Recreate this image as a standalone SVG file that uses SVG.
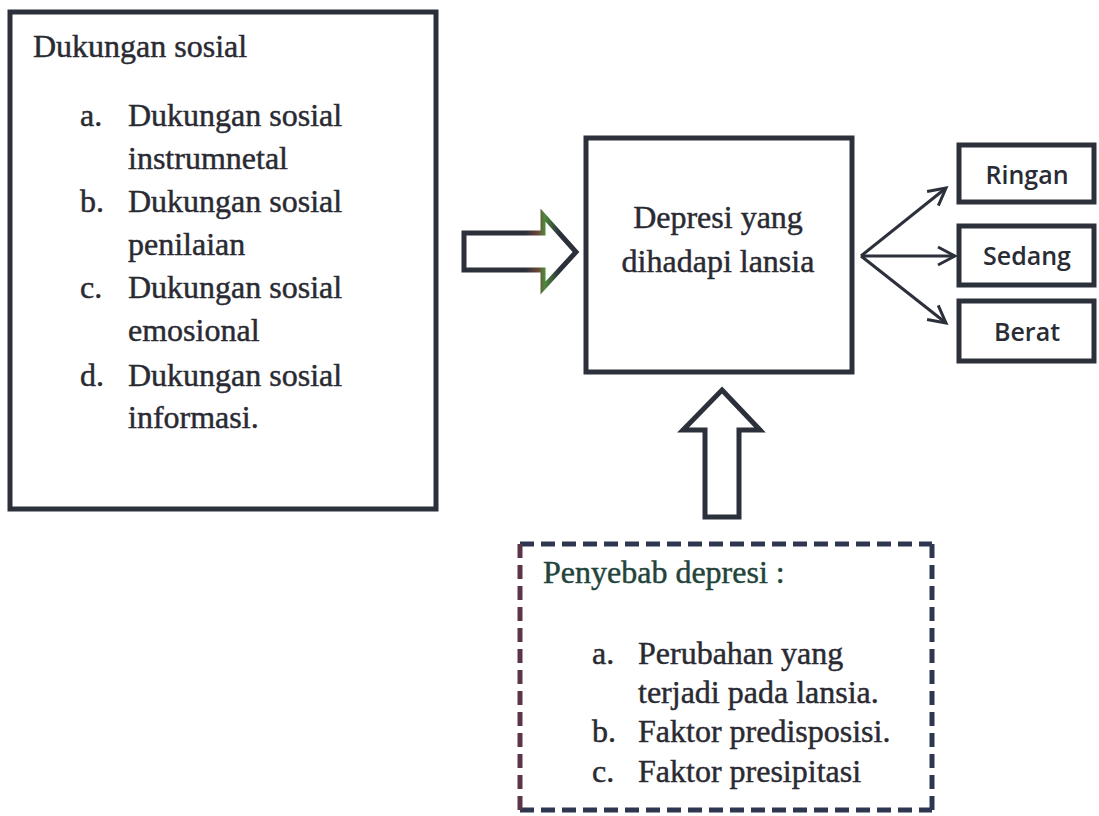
<svg xmlns="http://www.w3.org/2000/svg" width="1099" height="816" viewBox="0 0 1099 816">
<style>
.box{fill:none;stroke:#2c303b;stroke-width:5}
.serif{font-family:"Liberation Serif","Times New Roman",serif;font-size:32px;fill:#2a2a33;stroke:#2a2a33;stroke-width:0.45}
.sans{font-family:"Open Sans","Noto Sans",sans-serif;font-weight:600;font-size:25px;fill:#2a2c35;text-anchor:middle}
.conn{fill:none;stroke:#2c303b;stroke-width:3}
.block{fill:#fff;stroke:#2c303b;stroke-width:5;stroke-linejoin:miter}
.dash{stroke:#2f3650;stroke-width:5;stroke-dasharray:14 7}
</style>
<defs>
<marker id="open" viewBox="0 0 24 24" refX="21" refY="12" markerWidth="24" markerHeight="24" markerUnits="userSpaceOnUse" orient="auto">
<path d="M4,3 L21,12 L4,21" fill="none" stroke="#2c303b" stroke-width="3"/>
</marker>
<linearGradient id="tint" x1="0" y1="0" x2="1" y2="0">
<stop offset="0" stop-color="#2c303b"/>
<stop offset="0.55" stop-color="#2c303b"/>
<stop offset="0.66" stop-color="#6b4638"/>
<stop offset="0.72" stop-color="#4f8a3c"/>
<stop offset="0.85" stop-color="#2c303b"/>
<stop offset="1" stop-color="#2c303b"/>
</linearGradient>
</defs>
<rect width="1099" height="816" fill="#fff"/>

<g id="dukungan-sosial">
<rect class="box" x="10" y="12" width="426" height="497"/>
<text class="serif" x="33" y="57">Dukungan sosial</text>
<text class="serif" x="80" y="126">a.</text>
<text class="serif" x="128" y="126">Dukungan sosial</text>
<text class="serif" x="128" y="169">instrumnetal</text>
<text class="serif" x="80" y="212">b.</text>
<text class="serif" x="128" y="212">Dukungan sosial</text>
<text class="serif" x="128" y="255">penilaian</text>
<text class="serif" x="80" y="298">c.</text>
<text class="serif" x="128" y="298">Dukungan sosial</text>
<text class="serif" x="128" y="341">emosional</text>
<text class="serif" x="80" y="386">d.</text>
<text class="serif" x="128" y="386">Dukungan sosial</text>
<text class="serif" x="128" y="428">informasi.</text>
</g>

<g id="depresi">
<rect class="box" x="586" y="138" width="266" height="234"/>
<text class="serif" x="718" y="228" text-anchor="middle">Depresi yang</text>
<text class="serif" x="718" y="272" text-anchor="middle">dihadapi lansia</text>
</g>

<g id="ringan">
<rect class="box" x="959" y="145" width="135" height="57"/>
<text class="sans" x="1027" y="184">Ringan</text>
</g>
<g id="sedang">
<rect class="box" x="959" y="226" width="135" height="59"/>
<text class="sans" x="1027" y="265">Sedang</text>
</g>
<g id="berat">
<rect class="box" x="959" y="301" width="135" height="60"/>
<text class="sans" x="1027" y="341">Berat</text>
</g>

<g id="penyebab">
<line class="dash" x1="520" y1="544" x2="932" y2="544"/>
<line class="dash" x1="932" y1="544" x2="932" y2="810"/>
<line class="dash" x1="520" y1="810" x2="932" y2="810"/>
<line class="dash" x1="520" y1="544" x2="520" y2="810" style="stroke:#5a3648"/>
<text class="serif" x="543" y="583" style="fill:#23443a;stroke:#23443a">Penyebab depresi :</text>
<text class="serif" x="592" y="664">a.</text>
<text class="serif" x="638" y="664">Perubahan yang</text>
<text class="serif" x="638" y="703">terjadi pada lansia.</text>
<text class="serif" x="592" y="742">b.</text>
<text class="serif" x="638" y="742">Faktor predisposisi.</text>
<text class="serif" x="592" y="782">c.</text>
<text class="serif" x="638" y="782">Faktor presipitasi</text>
</g>

<g id="connectors">
<polygon class="block" points="464,233 543,233 543,215 576,252 543,288 543,270 464,270" style="stroke:url(#tint)"/>
<polygon class="block" points="722,390 760,430 739,430 739,517 705,517 705,430 683,430"/>
<line class="conn" x1="861" y1="256" x2="946" y2="188" marker-end="url(#open)"/>
<line class="conn" x1="861" y1="256" x2="955" y2="256" marker-end="url(#open)"/>
<line class="conn" x1="861" y1="256" x2="946" y2="323" marker-end="url(#open)"/>
</g>
</svg>
